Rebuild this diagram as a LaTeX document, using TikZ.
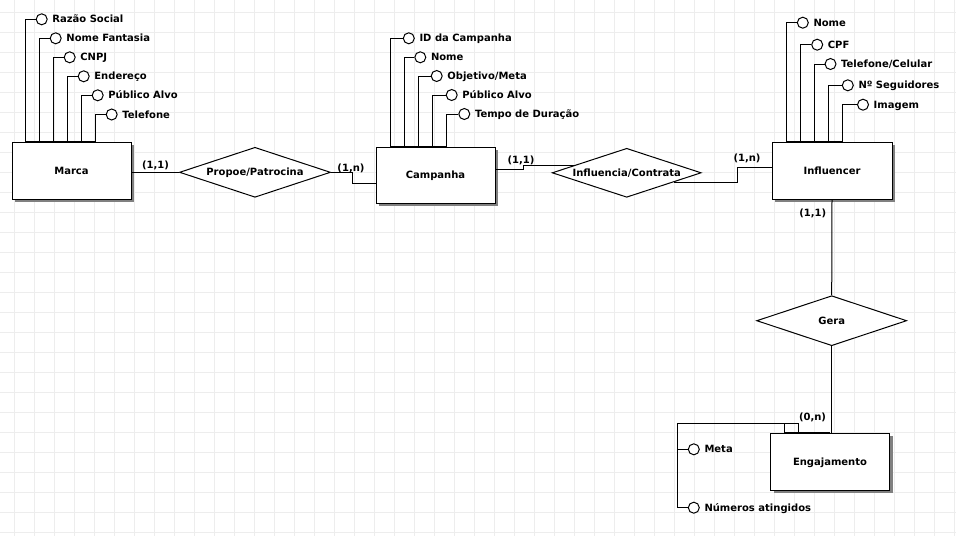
\documentclass[tikz,border=0pt]{standalone}
\usepackage{fontspec}
\setmainfont{DejaVu Sans}
\usetikzlibrary{positioning, shapes.geometric, shadows}

\begin{document}
\begin{tikzpicture}[
    x=1pt, y=-1pt,
    font=\fontsize{10}{12}\selectfont\bfseries,
    entity/.style={draw, line width=1pt, fill=white, minimum width=119pt, minimum height=57pt, inner sep=0pt, text height=7.3pt, text depth=0pt,
      drop shadow={shadow xshift=3pt, shadow yshift=-3pt, opacity=1, fill=black!50}},
    relation/.style={draw, diamond, aspect=3, line width=1pt, fill=white, inner sep=0pt, minimum width=151pt, minimum height=50pt, text height=7.3pt, text depth=0pt},
    attr/.style={draw, circle, line width=1pt, fill=white, minimum size=11pt, inner sep=0pt},
    attrname/.style={inner sep=0pt, text height=7.3pt, text depth=0pt},
    card/.style={inner sep=0pt, text height=7.3pt, text depth=0pt},
    link/.style={line width=1pt},
    gridline/.style={black!7, line width=0.7pt},
  ]
    \useasboundingbox (0,0) rectangle (956,536);
    \fill[white] (0,0) rectangle (956,536);
    % grid
    \foreach \gx in {14,34,...,954} \draw[gridline] (\gx,0) -- (\gx,536);
    \foreach \gy in {12,32,...,532} \draw[gridline] (0,\gy) -- (956,\gy);

    % entities
    \node[entity] (marca) at (71.5,170.5) {Marca};
    \node[entity, minimum height=56pt] (campanha) at (435.5,175) {Campanha};
    \node[entity, minimum width=120pt] (influencer) at (832,170.5) {Influencer};
    \node[entity] (engajamento) at (830,461.7) {Engajamento};

    % relationships
    \node[relation] (propoe) at (255,172.3) {Propoe/Patrocina};
    \node[relation, minimum width=149pt, minimum height=49pt] (influencia) at (626.7,172.8) {Influencia/Contrata};
    \node[relation, minimum width=150pt] (gera) at (831.7,320.7) {Gera};

    % connectors
    \draw[link] (marca.east |- propoe.west) -- (propoe.west);
    \draw[link] (propoe.east) -- ++(21,0) |- ([yshift=-8pt]campanha.west);
    \draw[link] ([yshift=6pt]campanha.east) -- ++(28,0) |- (influencia.172);
    \draw[link] (influencia.-11) -- ++(63,0) |- ([yshift=3pt]influencer.west);
    \draw[link] (influencer.south) -- (gera.north);
    \draw[link] (gera.south) -- (gera.south |- engajamento.north);

    % cardinalities
    \node[card] (c11marca) at (155.5,164.5) {(1,1)};
    \node[card] (c1ncamp) at (351,168.3) {(1,n)};
    \node[card] (c11camp) at (521,160) {(1,1)};
    \node[card] (c1ninfl) at (747,157.5) {(1,n)};
    \node[card] (c11infl) at (812.8,213.3) {(1,1)};
    \node[card] (c0neng) at (812.5,416.7) {(0,n)};

    % Marca attributes
    \node[attr] (razao) at (41.7,19.3) {};
    \node[attrname, right=4.5pt of razao] (razaot) {Razão Social};
    \node[attr] (fantasia) at (55.7,38.3) {};
    \node[attrname, right=4.5pt of fantasia] (fantasiat) {Nome Fantasia};
    \node[attr] (cnpj) at (69.7,57.3) {};
    \node[attrname, right=4.5pt of cnpj] (cnpjt) {CNPJ};
    \node[attr] (endereco) at (83.7,76.3) {};
    \node[attrname, right=4.5pt of endereco] (enderecot) {Endereço};
    \node[attr] (publicom) at (97.7,95.3) {};
    \node[attrname, right=4.5pt of publicom] (publicomt) {Público Alvo};
    \node[attr] (telefonem) at (111.7,114.5) {};
    \node[attrname, right=4.5pt of telefonem] (telefonemt) {Telefone};
    \draw[link] (razao.west) -- ++(-10,0) |- (marca.north);
    \draw[link] (fantasia.west) -- ++(-10,0) |- (marca.north);
    \draw[link] (cnpj.west) -- ++(-10,0) |- (marca.north);
    \draw[link] (endereco.west) -- ++(-10,0) |- (marca.north);
    \draw[link] (publicom.west) -- ++(-10,0) |- (marca.north);
    \draw[link] (telefonem.west) -- ++(-10,0) |- (marca.north);

    % Campanha attributes
    \node[attr] (idcamp) at (408.8,38.3) {};
    \node[attrname, right=4.5pt of idcamp] (idcampt) {ID da Campanha};
    \node[attr] (nomec) at (420.3,57.3) {};
    \node[attrname, right=4.5pt of nomec] (nomect) {Nome};
    \node[attr] (objetivo) at (436.7,76) {};
    \node[attrname, right=4.5pt of objetivo] (objetivot) {Objetivo/Meta};
    \node[attr] (publicoc) at (451.7,95) {};
    \node[attrname, right=4.5pt of publicoc] (publicoct) {Público Alvo};
    \node[attr] (tempo) at (464.3,114) {};
    \node[attrname, right=4.5pt of tempo] (tempot) {Tempo de Duração};
    \draw[link] (idcamp.west) -- ++(-12.5,0) |- (campanha.north);
    \draw[link] (nomec.west) -- ++(-10,0) |- (campanha.north);
    \draw[link] (objetivo.west) -- ++(-12,0) |- (campanha.north);
    \draw[link] (publicoc.west) -- ++(-13,0) |- (campanha.north);
    \draw[link] (tempo.west) -- ++(-11.6,0) |- (campanha.north);

    % Influencer attributes
    \node[attr] (nomei) at (802.8,22.7) {};
    \node[attrname, right=4.5pt of nomei] (nomeit) {Nome};
    \node[attr] (cpf) at (817.2,44.7) {};
    \node[attrname, right=4.5pt of cpf] (cpft) {CPF};
    \node[attr] (telcel) at (830.5,64) {};
    \node[attrname, right=4.5pt of telcel] (telcelt) {Telefone/Celular};
    \node[attr] (seguidores) at (847.8,85.3) {};
    \node[attrname, right=4.5pt of seguidores] (seguidorest) {Nº Seguidores};
    \node[attr] (imagem) at (863,104.7) {};
    \node[attrname, right=4.5pt of imagem] (imagemt) {Imagem};
    \draw[link] (nomei.west) -- ++(-10.5,0) |- (influencer.north);
    \draw[link] (cpf.west) -- ++(-11,0) |- (influencer.north);
    \draw[link] (telcel.west) -- ++(-10.2,0) |- (influencer.north);
    \draw[link] (seguidores.west) -- ++(-13.5,0) |- (influencer.north);
    \draw[link] (imagem.west) -- ++(-14.7,0) |- (influencer.north);

    % Engajamento attributes
    \coordinate (ek) at (677.3,423.3);
    \node[attr] (meta) at (693.8,449.3) {};
    \node[attrname, right=4.5pt of meta] (metat) {Meta};
    \node[attr] (numeros) at (693.8,507.7) {};
    \node[attrname, right=4.5pt of numeros] (numerost) {Números atingidos};
    \draw[link] (meta.west) -| (ek) -- ++(107,0) |- (engajamento.north);
    \draw[link] (numeros.west) -| (ek) -- ++(120.7,0) |- (engajamento.north);
\end{tikzpicture}
\end{document}
